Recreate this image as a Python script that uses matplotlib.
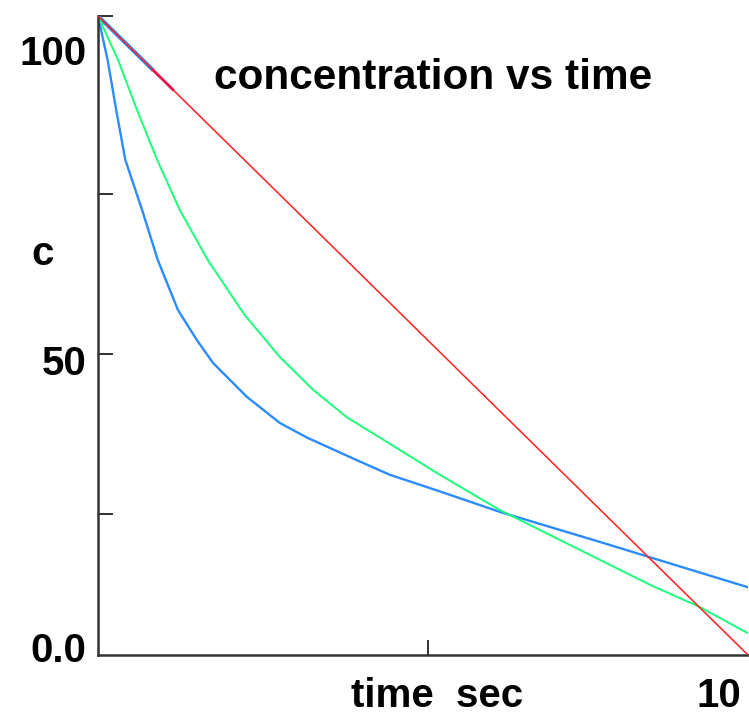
import matplotlib
matplotlib.use("Agg")
import matplotlib.pyplot as plt

# ---- data ----
red_t = [0, 10]
red_c = [100, 0]

green_t = [0, 0.31, 0.60, 0.91, 1.26, 1.69, 2.25, 2.80, 3.31, 3.83, 4.34, 5.26, 6.18, 7.72, 8.49, 9.26, 10]
green_c = [100, 93.1, 85.3, 77.5, 69.6, 61.8, 53.3, 46.6, 41.5, 37.2, 34.0, 28.2, 22.7, 14.9, 11.0, 7.5, 3.4]

blue_t = [0, 0.15, 0.28, 0.42, 0.68, 0.92, 1.23, 1.52, 1.77, 2.29, 2.80, 3.22, 3.98, 4.49, 5.26, 6.18, 7.72, 8.49, 10]
blue_c = [100, 93.0, 85.3, 77.5, 69.6, 61.8, 54.0, 49.3, 45.7, 40.4, 36.3, 34.0, 30.5, 28.2, 25.6, 22.4, 17.7, 15.3, 10.6]

blue_seg_t = [0, 0.85]
blue_seg_c = [100, 91.5]
pink_seg_t = [0.85, 1.15]
pink_seg_c = [91.5, 88.5]

y_ticks = [22.1, 47.1, 72.1, 100]
x_ticks = [5.08]

y_label_vals = [92.3, 43.8, -1.1]
y_label_txt = ["100", "50", "0.0"]

title = "concentration vs time"
xlabel = "time  sec"
xend_label = "10"
ylabel = "c"

W, H = 749, 714
fig = plt.figure(figsize=(W / 100, H / 100), dpi=100)
ax = fig.add_axes([98 / W, 1 - 655 / H, 650 / W, 639 / H])
ax.set_xlim(0, 10)
ax.set_ylim(0, 100)

ax.plot(blue_seg_t, blue_seg_c, color="#2b8cff", lw=2.8, solid_capstyle="butt", zorder=2)
ax.plot(red_t, red_c, color="#ff2020", lw=1.1, zorder=3)
ax.plot(pink_seg_t, pink_seg_c, color="#e8104a", lw=2.0, zorder=3)
ax.plot(blue_t, blue_c, color="#2b8cff", lw=1.7, zorder=2)
ax.plot(green_t, green_c, color="#1aff7a", lw=1.4, zorder=2)

for s in ["top", "right"]:
    ax.spines[s].set_visible(False)
for s in ["left", "bottom"]:
    ax.spines[s].set_color("#333333")
    ax.spines[s].set_linewidth(1.8)

ax.set_yticks(y_ticks)
ax.set_xticks(x_ticks)
ax.set_yticklabels([])
ax.set_xticklabels([])
ax.tick_params(axis="both", direction="in", length=11, width=1.3, color="#222222")

fs = 29
fp = dict(family="Liberation Sans", weight="bold", color="black", fontsize=fs)
for v, t in zip(y_label_vals, y_label_txt):
    ax.text(-0.18, v, t, ha="right", va="baseline", clip_on=False, **fp)

ax.text(9.55, -8.1, xend_label, ha="center", va="baseline", clip_on=False, **fp)
ax.text(5.22, -8.1, xlabel, ha="center", va="baseline", clip_on=False, **fp)
ax.text(-0.854, 61.0, ylabel, ha="center", va="baseline", clip_on=False, **fp)
ax.text(5.15, 88.6, title, ha="center", va="baseline",
        family="Liberation Sans", weight="bold", color="black", fontsize=30.5)

fig.savefig("out.png", dpi=100)
